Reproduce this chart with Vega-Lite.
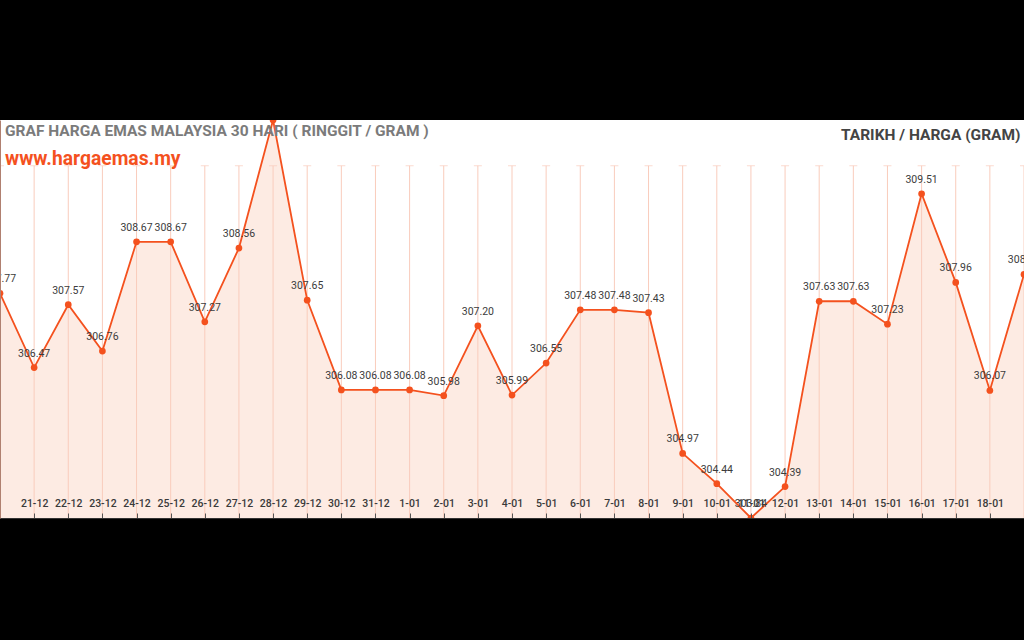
{
  "$schema": "https://vega.github.io/schema/vega-lite/v6.json",
  "width": 1024,
  "height": 398,
  "autosize": {"type": "none"},
  "padding": {"top": 120, "bottom": 122, "left": 0, "right": 0},
  "background": "#000000",
  "view": {"fill": "#ffffff", "stroke": null},
  "config": {"font": "Roboto"},
  "title": {
    "text": "GRAF HARGA EMAS MALAYSIA 30 HARI ( RINGGIT / GRAM )",
    "subtitle": "www.hargaemas.my",
    "anchor": "start",
    "frame": "group",
    "orient": "top",
    "baseline": "top",
    "offset": -49,
    "dx": 5,
    "font": "Roboto",
    "fontSize": 15.5,
    "fontWeight": "bold",
    "color": "#7b7b7b",
    "subtitleFont": "Roboto",
    "subtitleFontSize": 19.3,
    "subtitleFontWeight": "bold",
    "subtitleColor": "#f4511e",
    "subtitlePadding": 10
  },
  "data": {
    "values": [
      {"date": "20-12", "price": 307.77},
      {"date": "21-12", "price": 306.47},
      {"date": "22-12", "price": 307.57},
      {"date": "23-12", "price": 306.76},
      {"date": "24-12", "price": 308.67},
      {"date": "25-12", "price": 308.67},
      {"date": "26-12", "price": 307.27},
      {"date": "27-12", "price": 308.56},
      {"date": "28-12", "price": 310.80},
      {"date": "29-12", "price": 307.65},
      {"date": "30-12", "price": 306.08},
      {"date": "31-12", "price": 306.08},
      {"date": "1-01", "price": 306.08},
      {"date": "2-01", "price": 305.98},
      {"date": "3-01", "price": 307.20},
      {"date": "4-01", "price": 305.99},
      {"date": "5-01", "price": 306.55},
      {"date": "6-01", "price": 307.48},
      {"date": "7-01", "price": 307.48},
      {"date": "8-01", "price": 307.43},
      {"date": "9-01", "price": 304.97},
      {"date": "10-01", "price": 304.44},
      {"date": "11-01", "price": 303.84},
      {"date": "12-01", "price": 304.39},
      {"date": "13-01", "price": 307.63},
      {"date": "14-01", "price": 307.63},
      {"date": "15-01", "price": 307.23},
      {"date": "16-01", "price": 309.51},
      {"date": "17-01", "price": 307.96},
      {"date": "18-01", "price": 306.07},
      {"date": "19-01", "price": 308.10}
    ]
  },
  "encoding": {
    "x": {
      "field": "date",
      "type": "ordinal",
      "sort": null,
      "scale": {"type": "point", "padding": 0},
      "axis": {
        "zindex": 1,
        "title": "TARIKH / HARGA (GRAM)",
        "titleFont": "Roboto",
        "titleFontSize": 15.5,
        "titleFontWeight": "bold",
        "titleColor": "#444444",
        "titleAnchor": "end",
        "titleAlign": "right",
        "titleBaseline": "top",
        "titleX": 1020,
        "titleY": -391,
        "labelAngle": 0,
        "labelFont": "Roboto",
        "labelFontSize": 10.5,
        "labelFontWeight": 500,
        "labelColor": "#3a3a3a",
        "labelBaseline": "middle",
        "labelPadding": -10,
        "labelExpr": "datum.label == '20-12' || datum.label == '19-01' ? '' : datum.label",
        "tickSize": -5,
        "tickColor": "#555555",
        "domainColor": "#333333",
        "grid": false
      }
    }
  },
  "layer": [
    {
      "mark": {"type": "area", "color": "#fdebe3", "clip": true},
      "encoding": {
        "y": {
          "field": "price",
          "type": "quantitative",
          "scale": {"domain": [303.84, 310.8], "zero": false, "nice": false},
          "axis": {"zindex": 1, "title": null, "labels": false, "ticks": false, "grid": false, "domainColor": "#b08070"}
        }
      }
    },
    {
      "mark": {"type": "rule", "color": "#f9ccbc", "strokeWidth": 1},
      "encoding": {
        "y": {"datum": 310.0},
        "y2": {"datum": 303.84}
      }
    },
    {
      "mark": {"type": "tick", "color": "#f9ccbc", "thickness": 1, "size": 8, "orient": "horizontal"},
      "encoding": {
        "y": {"datum": 310.0}
      }
    },
    {
      "mark": {"type": "line", "color": "#f4511e", "strokeWidth": 1.8, "clip": true},
      "encoding": {"y": {"field": "price", "type": "quantitative"}}
    },
    {
      "mark": {"type": "circle", "color": "#f4511e", "opacity": 1, "size": 45, "clip": true},
      "encoding": {"y": {"field": "price", "type": "quantitative"}}
    },
    {
      "mark": {"type": "text", "font": "Roboto", "fontSize": 10.5, "color": "#3c3c3c", "dy": -14, "baseline": "middle", "clip": true},
      "encoding": {
        "y": {"field": "price", "type": "quantitative"},
        "text": {"field": "price", "type": "quantitative", "format": ".2f"}
      }
    }
  ]
}
